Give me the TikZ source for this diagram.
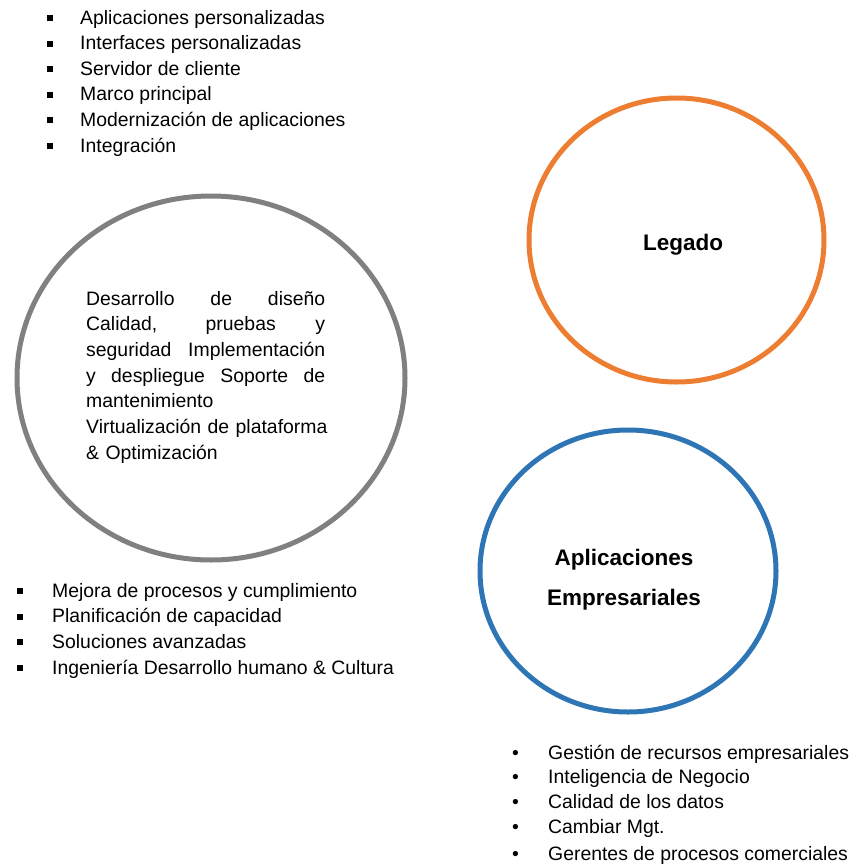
\documentclass[tikz,border=0pt]{standalone}
\usepackage{fontspec}
\setmainfont{Liberation Sans}
\usetikzlibrary{shapes.geometric}
\definecolor{ringgrey}{RGB}{128,128,128}
\definecolor{ringorange}{RGB}{237,125,49}
\definecolor{ringblue}{RGB}{46,117,182}
\newcommand{\sqb}{\raisebox{3pt}{\rule{6pt}{6pt}}}
\newcommand{\jline}[1]{\makebox[239pt][s]{\spaceskip=0.278em plus 1fil\relax #1}}
\tikzset{ring/.style = {ellipse, draw, line width=5pt, inner sep=0pt},
         item/.style = {anchor=base west, inner sep=0pt, font=\fontsize{19.4}{25.7}\selectfont},
         title/.style = {anchor=base, align=center, inner sep=0pt, font=\fontsize{22.5}{40}\selectfont\bfseries}}

\begin{document}
\begin{tikzpicture}[x=1pt,y=-1pt]
\useasboundingbox (0,0) rectangle (850,865);
% rings
\node [ring, draw=ringgrey, minimum width=388pt, minimum height=364pt] (desarrollo) at (211,378) {};
\node [ring, draw=ringorange, minimum width=295pt, minimum height=284pt] (legado) at (676.5,240) {};
\node [ring, draw=ringblue, minimum width=296pt, minimum height=282pt] (empresa) at (628,571) {};
% titles
\node [title] (legadotxt) at (683,250) {Legado};
\node [title] (empresatxt) at (624,605) {Aplicaciones\\Empresariales};
% text inside the grey ring
\node [item, text width=255pt, align=left] (desarrollotxt) at (86,305) {%
\jline{Desarrollo de diseño}\\
\jline{Calidad, pruebas y}\\
\jline{seguridad Implementación}\\
\jline{y despliegue Soporte de}\\
mantenimiento\\
Virtualización de plataforma\\
\& Optimización};
% lists
\foreach \t [count=\i] in {Aplicaciones personalizadas, Interfaces personalizadas,
    Servidor de cliente, Marco principal, Modernización de aplicaciones, Integración}
  \node [item] (arriba\i) at (47,{24+25.6*(\i-1)}) {\makebox[33pt][l]{\sqb}\t};
\foreach \t [count=\i] in {Mejora de procesos y cumplimiento, Planificación de capacidad,
    Soluciones avanzadas, Ingeniería Desarrollo humano \& Cultura}
  \node [item] (abajo\i) at (17,{597+25.7*(\i-1)}) {\makebox[35pt][l]{\sqb}\t};
\foreach \y/\t [count=\i] in {759/Gestión de recursos empresariales, 783/Inteligencia de Negocio,
    808/Calidad de los datos, 833/Cambiar Mgt., 860/Gerentes de procesos comerciales}
  \node [item] (empresa\i) at (512,\y) {\makebox[36pt][l]{•}\t};
\end{tikzpicture}
\end{document}
